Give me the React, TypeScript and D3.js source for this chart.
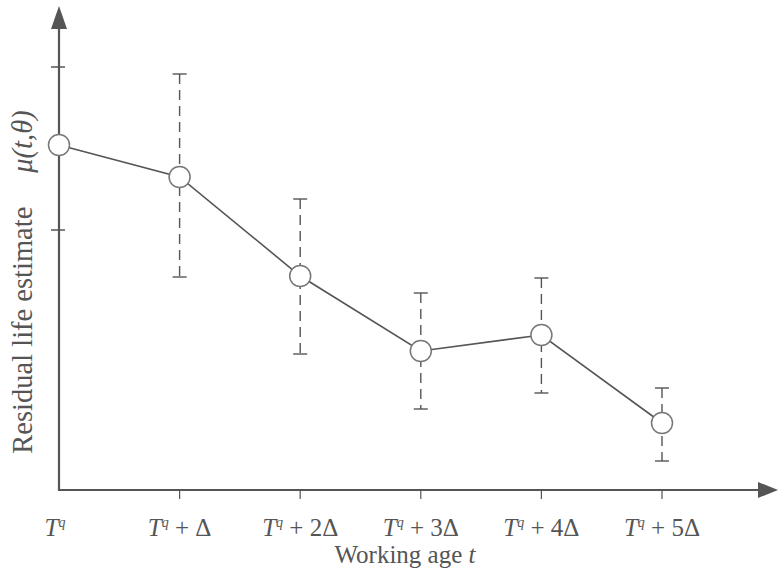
import React, { useRef, useEffect } from 'react';
import * as d3 from 'd3';

// x positions: T^q + kΔ, k = 0..5
const steps = [0, 1, 2, 3, 4, 5];
const stepLabels = ['', ' + Δ', ' + 2Δ', ' + 3Δ', ' + 4Δ', ' + 5Δ'];
// residual life estimate (arbitrary units)
const estimates = [3.45, 3.13, 2.14, 1.39, 1.55, 0.67];
const lowerBounds = [null, 2.13, 1.36, 0.81, 0.97, 0.29];
const upperBounds = [null, 4.16, 2.91, 1.97, 2.12, 1.02];
const yTicks = [2.6, 4.23];

const W = 778;
const H = 575;
const ink = '#555';
const font = '"Liberation Serif", "Times New Roman", serif';

const App: React.FC = () => {
  const svgRef = useRef<SVGSVGElement>(null);

  useEffect(() => {
    const svg = d3.select(svgRef.current);
    svg.selectAll('*').remove();

    svg.append('rect').attr('width', W).attr('height', H).attr('fill', '#fff');

    const x = d3.scaleLinear().domain([0, 5]).range([59, 662]);
    const y = d3.scaleLinear().domain([0, 4.8]).range([490, 10]);
    const x0 = x(0);
    const y0 = y(0);

    // axes
    svg.append('line')
      .attr('x1', x0).attr('x2', x0).attr('y1', y0 + 1).attr('y2', 26)
      .attr('stroke', ink).attr('stroke-width', 2.2);
    svg.append('path')
      .attr('d', `M${x0},6 L${x0 - 8},29 L${x0 + 8},29 Z`)
      .attr('fill', ink);
    svg.append('line')
      .attr('x1', x0 - 1).attr('x2', 762).attr('y1', y0).attr('y2', y0)
      .attr('stroke', ink).attr('stroke-width', 2.2);
    svg.append('path')
      .attr('d', `M778,${y0} L758,${y0 - 8} L758,${y0 + 8} Z`)
      .attr('fill', ink);

    // y ticks
    svg.selectAll('.ytick')
      .data(yTicks)
      .enter()
      .append('line')
      .attr('x1', x0 - 8).attr('x2', x0 + 6)
      .attr('y1', d => y(d)).attr('y2', d => y(d))
      .attr('stroke', ink).attr('stroke-width', 1.5);

    // x ticks
    svg.selectAll('.xtick')
      .data(steps.slice(1))
      .enter()
      .append('line')
      .attr('x1', d => x(d)).attr('x2', d => x(d))
      .attr('y1', y0).attr('y2', y0 + 9)
      .attr('stroke', ink).attr('stroke-width', 1.2);

    // x tick labels
    const lab = svg.selectAll('.xlab')
      .data(steps)
      .enter()
      .append('text')
      .attr('x', d => x(d) - (d === 0 ? 4 : 0))
      .attr('y', 536)
      .attr('text-anchor', 'middle')
      .attr('fill', ink)
      .style('font-family', font)
      .style('font-size', '25px');
    lab.append('tspan').style('font-style', 'italic').text('T');
    lab.append('tspan')
      .style('font-style', 'italic')
      .style('font-size', '14px')
      .attr('dy', -9)
      .text('q');
    lab.append('tspan').attr('dy', 9).text(d => stepLabels[d]);

    // axis titles
    const xt = svg.append('text')
      .attr('x', 405).attr('y', 563)
      .attr('text-anchor', 'middle')
      .attr('fill', ink)
      .style('font-family', font)
      .style('font-size', '25px');
    xt.append('tspan').text('Working age ');
    xt.append('tspan').style('font-style', 'italic').text('t');

    const yt = svg.append('text')
      .attr('transform', 'translate(32,282) rotate(-90)')
      .attr('text-anchor', 'middle')
      .attr('fill', ink)
      .style('font-family', font)
      .style('font-size', '28.5px');
    yt.append('tspan').text('Residual life estimate');
    yt.append('tspan').attr('dx', 34).style('font-style', 'italic').text('μ(t,θ)');

    // error bars
    const bars = steps.filter(i => lowerBounds[i] !== null);
    bars.forEach(i => {
      const cx = x(i);
      const lo = y(lowerBounds[i] as number);
      const hi = y(upperBounds[i] as number);
      svg.append('line')
        .attr('x1', cx).attr('x2', cx).attr('y1', hi).attr('y2', lo)
        .attr('stroke', ink).attr('stroke-width', 1.4)
        .attr('stroke-dasharray', '10,6');
      [lo, hi].forEach(v => {
        svg.append('line')
          .attr('x1', cx - 7).attr('x2', cx + 7).attr('y1', v).attr('y2', v)
          .attr('stroke', ink).attr('stroke-width', 1.4);
      });
    });

    // line
    const line = d3.line<number>()
      .x(i => x(i))
      .y(i => y(estimates[i]));
    svg.append('path')
      .datum(steps)
      .attr('d', line)
      .attr('fill', 'none')
      .attr('stroke', ink)
      .attr('stroke-width', 1.6);

    // points
    svg.selectAll('.pt')
      .data(steps)
      .enter()
      .append('circle')
      .attr('cx', i => x(i))
      .attr('cy', i => y(estimates[i]))
      .attr('r', 10.5)
      .attr('fill', '#fff')
      .attr('stroke', '#777')
      .attr('stroke-width', 1.5);
  }, []);

  return (
    <div style={{ position: 'absolute', left: 0, top: 0 }}>
      <svg ref={svgRef} width={W} height={H} style={{ display: 'block' }} />
    </div>
  );
};

export default App;
